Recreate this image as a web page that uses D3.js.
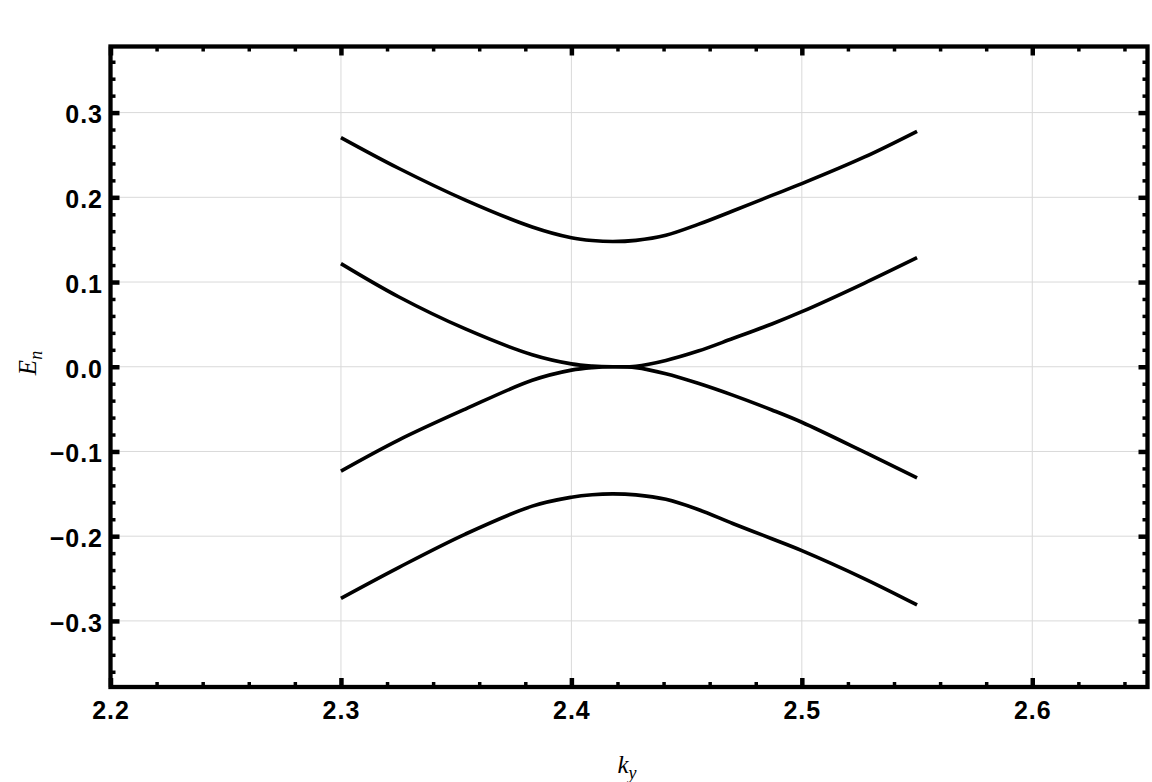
<!DOCTYPE html>
<html>
<head>
<meta charset="utf-8">
<script src="https://cdn.jsdelivr.net/npm/d3@7"></script>
<style>
    body { margin: 0; background: #fff; }
    svg { display: block; }
    .tick-label { font-family: "Liberation Sans", Arial, sans-serif; font-weight: bold; font-size: 25px; letter-spacing: 1px; fill: #000; }
    .axis-title { font-family: "Liberation Serif", "Times New Roman", serif; font-style: italic; font-size: 25px; fill: #000; }
    .grid line { stroke: #d9d9d9; stroke-width: 1; }
    .band { fill: none; stroke: #000; stroke-width: 3.6; }
</style>
</head>
<body>
<svg id="chart" width="1152" height="782"></svg>
<script>
// k_y sample points
var kyValues = [2.300, 2.325, 2.354, 2.383, 2.400, 2.409, 2.418, 2.428, 2.441, 2.455, 2.470, 2.487, 2.500, 2.527, 2.550];

// the four bands, lowest to highest
var bandE1 = [-0.2733, -0.2370, -0.1975, -0.1645, -0.1540, -0.1510, -0.1500, -0.1512, -0.1565, -0.1685, -0.1850, -0.2030, -0.2170, -0.2500, -0.2811];
var bandE2 = [-0.1232, -0.0866, -0.0500, -0.0160, -0.0040, -0.0010, 0.0000, -0.0010, -0.0082, -0.0195, -0.0335, -0.0510, -0.0655, -0.1005, -0.1311];
var bandE3 = [0.1217, 0.0826, 0.0446, 0.0142, 0.0034, 0.0008, 0.0000, 0.0006, 0.0075, 0.0185, 0.0333, 0.0505, 0.0650, 0.0985, 0.1287];
var bandE4 = [0.2705, 0.2343, 0.1967, 0.1650, 0.1523, 0.1490, 0.1478, 0.1492, 0.1552, 0.1680, 0.1838, 0.2022, 0.2161, 0.2473, 0.2779];

var xMajorTicks = [2.2, 2.3, 2.4, 2.5, 2.6];
var xMinorTicks = [2.22, 2.24, 2.26, 2.28, 2.32, 2.34, 2.36, 2.38, 2.42, 2.44, 2.46, 2.48,
                   2.52, 2.54, 2.56, 2.58, 2.62, 2.64];
var yMajorTicks = [-0.3, -0.2, -0.1, 0.0, 0.1, 0.2, 0.3];
var yMinorTicks = [-0.36, -0.34, -0.32, -0.28, -0.26, -0.24, -0.22, -0.18, -0.16, -0.14, -0.12,
                   -0.08, -0.06, -0.04, -0.02, 0.02, 0.04, 0.06, 0.08, 0.12, 0.14, 0.16, 0.18,
                   0.22, 0.24, 0.26, 0.28, 0.32, 0.34, 0.36];

const svg = d3.select('#chart');
const plotLeft = 110.5, plotRight = 1147.5, plotTop = 46.5, plotBottom = 687;

const xScale = d3.scaleLinear()
    .domain([2.2, 2.65])
    .range([plotLeft, plotRight]);

const yScale = d3.scaleLinear()
    .domain([-0.378, 0.378])
    .range([plotBottom, plotTop]);

// grid
const grid = svg.append('g').attr('class', 'grid');

grid.selectAll('line.v')
    .data(xMajorTicks.slice(1))
    .enter().append('line')
    .attr('class', 'v')
    .attr('x1', d => xScale(d)).attr('x2', d => xScale(d))
    .attr('y1', plotTop).attr('y2', plotBottom);

grid.selectAll('line.h')
    .data(yMajorTicks)
    .enter().append('line')
    .attr('class', 'h')
    .attr('x1', plotLeft).attr('x2', plotRight)
    .attr('y1', d => yScale(d)).attr('y2', d => yScale(d));

// bands
const line = d3.line()
    .x(d => xScale(d[0]))
    .y(d => yScale(d[1]))
    .curve(d3.curveCatmullRom.alpha(0.5));

[bandE1, bandE2, bandE3, bandE4].forEach(function (band) {
    svg.append('path')
        .attr('class', 'band')
        .attr('d', line(kyValues.map((k, i) => [k, band[i]])));
});

// frame ticks, pointing inward on all four sides
function styleTicks(g, width) {
    g.select('.domain').remove();
    g.selectAll('.tick line').attr('stroke', '#000').attr('stroke-width', width);
}

svg.append('g')
    .attr('transform', 'translate(0,' + plotBottom + ')')
    .call(d3.axisBottom(xScale).tickValues(xMajorTicks).tickSize(-9).tickPadding(14).tickFormat(d3.format('.1f')))
    .call(g => styleTicks(g, 4.5))
    .call(g => g.attr('font-size', null).attr('font-family', null))
    .selectAll('text').attr('class', 'tick-label');

svg.append('g')
    .attr('transform', 'translate(0,' + plotBottom + ')')
    .call(d3.axisBottom(xScale).tickValues(xMinorTicks).tickSize(-5).tickFormat(''))
    .call(g => styleTicks(g, 3.5));

svg.append('g')
    .attr('transform', 'translate(0,' + plotTop + ')')
    .call(d3.axisTop(xScale).tickValues(xMajorTicks).tickSize(-9).tickFormat(''))
    .call(g => styleTicks(g, 4.5));

svg.append('g')
    .attr('transform', 'translate(0,' + plotTop + ')')
    .call(d3.axisTop(xScale).tickValues(xMinorTicks).tickSize(-5).tickFormat(''))
    .call(g => styleTicks(g, 3.5));

svg.append('g')
    .attr('transform', 'translate(' + plotLeft + ',0)')
    .call(d3.axisLeft(yScale).tickValues(yMajorTicks).tickSize(-9).tickPadding(7.5).tickFormat(d3.format('.1f')))
    .call(g => styleTicks(g, 4.5))
    .call(g => g.attr('font-size', null).attr('font-family', null))
    .selectAll('text').attr('class', 'tick-label')
    .attr('dy', '0.41em');

svg.append('g')
    .attr('transform', 'translate(' + plotLeft + ',0)')
    .call(d3.axisLeft(yScale).tickValues(yMinorTicks).tickSize(-5).tickFormat(''))
    .call(g => styleTicks(g, 3.5));

svg.append('g')
    .attr('transform', 'translate(' + plotRight + ',0)')
    .call(d3.axisRight(yScale).tickValues(yMajorTicks).tickSize(-9).tickFormat(''))
    .call(g => styleTicks(g, 4.5));

svg.append('g')
    .attr('transform', 'translate(' + plotRight + ',0)')
    .call(d3.axisRight(yScale).tickValues(yMinorTicks).tickSize(-5).tickFormat(''))
    .call(g => styleTicks(g, 3.5));

// frame
svg.append('rect')
    .attr('x', plotLeft).attr('y', plotTop)
    .attr('width', plotRight - plotLeft).attr('height', plotBottom - plotTop)
    .attr('fill', 'none')
    .attr('stroke', '#000')
    .attr('stroke-width', 4.3);

// axis titles
const xTitle = svg.append('text')
    .attr('class', 'axis-title')
    .attr('x', 627)
    .attr('y', 773)
    .attr('text-anchor', 'middle');
xTitle.append('tspan').text('k');
xTitle.append('tspan').attr('font-size', '18px').attr('dy', 6).text('y');

const yTitle = svg.append('text')
    .attr('class', 'axis-title')
    .attr('transform', 'translate(36,363) rotate(-90)')
    .attr('text-anchor', 'middle');
yTitle.append('tspan').text('E');
yTitle.append('tspan').attr('font-size', '18px').attr('dy', 6).text('n');
</script>
</body>
</html>
